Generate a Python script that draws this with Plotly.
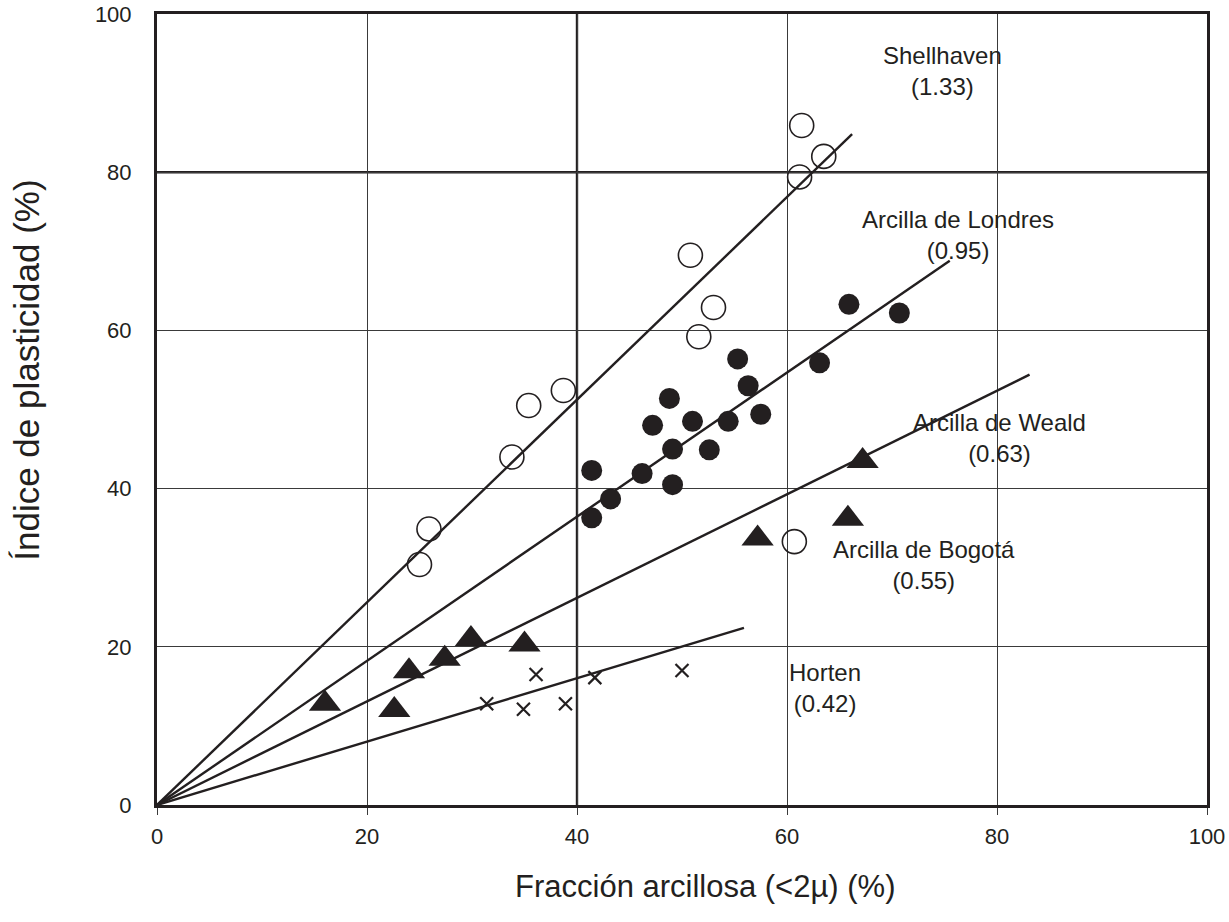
import plotly.graph_objects as go

# ---------------- data ----------------
# Shellhaven (open circles)
shell_x = [61.4, 63.5, 61.2, 50.8, 53.0, 51.6, 38.7, 35.4, 33.8, 25.9, 25.0, 60.7]
shell_y = [85.9, 82.0, 79.4, 69.5, 62.9, 59.2, 52.4, 50.5, 44.0, 34.9, 30.4, 33.3]

# Arcilla de Londres (filled ellipses)
lond_x = [65.9, 70.7, 63.1, 55.3, 56.3, 48.8, 51.0, 54.4, 57.5, 47.2, 49.1, 52.6, 41.4, 46.2, 49.1, 43.2, 41.4]
lond_y = [63.3, 62.2, 55.9, 56.4, 53.0, 51.4, 48.5, 48.5, 49.4, 48.0, 45.0, 44.9, 42.3, 41.9, 40.5, 38.7, 36.3]

# Arcilla de Weald / Bogotá (filled triangles)
tri_x = [67.2, 65.8, 57.2, 29.9, 35.0, 27.4, 24.0, 16.0, 22.6]
tri_y = [43.5, 36.2, 33.7, 21.0, 20.3, 18.5, 16.9, 12.8, 12.0]

# Horten (x)
hort_x = [36.1, 41.7, 50.0, 31.4, 34.9, 38.9]
hort_y = [16.5, 16.1, 17.0, 12.8, 12.1, 12.8]

# Trend lines from origin: (x_end, y_end)
line_names = ["Shellhaven", "Arcilla de Londres", "Arcilla de Weald", "Horten"]
line_x_end = [66.2, 75.5, 83.1, 55.9]
line_y_end = [84.8, 68.8, 54.4, 22.4]

# Labels
label_text = ["Shellhaven<br>(1.33)", "Arcilla de Londres<br>(0.95)", "Arcilla de Weald<br>(0.63)",
              "Arcilla de Bogotá<br>(0.55)", "Horten<br>(0.42)"]
label_x = [74.8, 76.3, 80.2, 73.0, 63.6]
label_y = [92.8, 72.1, 46.4, 30.3, 14.8]

x_title = "Fracción arcillosa (<2µ) (%)"
y_title = "Índice de plasticidad (%)"

tick_vals = [0, 20, 40, 60, 80, 100]
tick_text = ["0", "20", "40", "60", "80", "100"]
emph_grid_x = [40]
emph_grid_y = [80]

INK = "#231f20"
FONT = "Liberation Sans, Arial, Helvetica, sans-serif"

fig = go.Figure()

# emphasized gridlines
for gx in emph_grid_x:
    fig.add_vline(x=gx, line=dict(color=INK, width=2.4), layer="below")
for gy in emph_grid_y:
    fig.add_hline(y=gy, line=dict(color=INK, width=2.4), layer="below")

for name, xe, ye in zip(line_names, line_x_end, line_y_end):
    fig.add_trace(go.Scatter(x=[0, xe], y=[0, ye], mode="lines",
                             line=dict(color=INK, width=2.4), name=name, showlegend=False))

fig.add_trace(go.Scatter(x=shell_x, y=shell_y, mode="markers", showlegend=False, name="Shellhaven",
                         marker=dict(symbol="circle-open", size=24, color=INK, line=dict(width=1.6, color=INK))))
fig.add_trace(go.Scatter(x=lond_x, y=lond_y, mode="markers", showlegend=False, name="Arcilla de Londres",
                         marker=dict(symbol="circle", size=21, color=INK, line=dict(width=0))))
fig.add_trace(go.Scatter(x=tri_x, y=tri_y, mode="markers", showlegend=False, name="Arcilla de Weald / Bogotá",
                         marker=dict(symbol="triangle-up", size=28, color=INK, line=dict(width=0))))
fig.add_trace(go.Scatter(x=hort_x, y=hort_y, mode="markers", showlegend=False, name="Horten",
                         marker=dict(symbol="x-thin", size=13, color=INK, line=dict(width=2.2, color=INK))))

for t, x, y in zip(label_text, label_x, label_y):
    fig.add_annotation(x=x, y=y, text=t, showarrow=False, xref="x", yref="y",
                       font=dict(family=FONT, size=24, color=INK), align="center")

# axis titles
fig.add_annotation(x=0.522, y=-0.103, xref="paper", yref="paper", text=x_title, showarrow=False,
                   font=dict(family=FONT, size=31, color=INK), xanchor="center", yanchor="middle")
fig.add_annotation(x=-0.124, y=0.55, xref="paper", yref="paper", text=y_title, showarrow=False,
                   textangle=-90, font=dict(family=FONT, size=35, color=INK),
                   xanchor="center", yanchor="middle")

axis_common = dict(range=[0, 100], tickvals=tick_vals, ticktext=tick_text,
                   showgrid=True, gridcolor="#3a3a3a", gridwidth=1.2,
                   showline=True, linecolor=INK, linewidth=3, mirror=True,
                   zeroline=False, ticklabeloverflow="allow", automargin=False,
                   tickfont=dict(family=FONT, size=22, color=INK))

fig.update_xaxes(**axis_common, ticks="outside", ticklen=7, tickwidth=1.2, tickcolor="#3a3a3a",
                 ticklabelstandoff=3)
fig.update_yaxes(**axis_common, ticks="", ticklabelstandoff=18)

fig.update_layout(width=1229, height=922,
                  margin=dict(l=157, r=22, t=14, b=117, autoexpand=False),
                  plot_bgcolor="white", paper_bgcolor="white",
                  font=dict(family=FONT, color=INK))

fig.write_html("out.html", config={"displayModeBar": False},
               post_script="document.body.style.margin='0';")
